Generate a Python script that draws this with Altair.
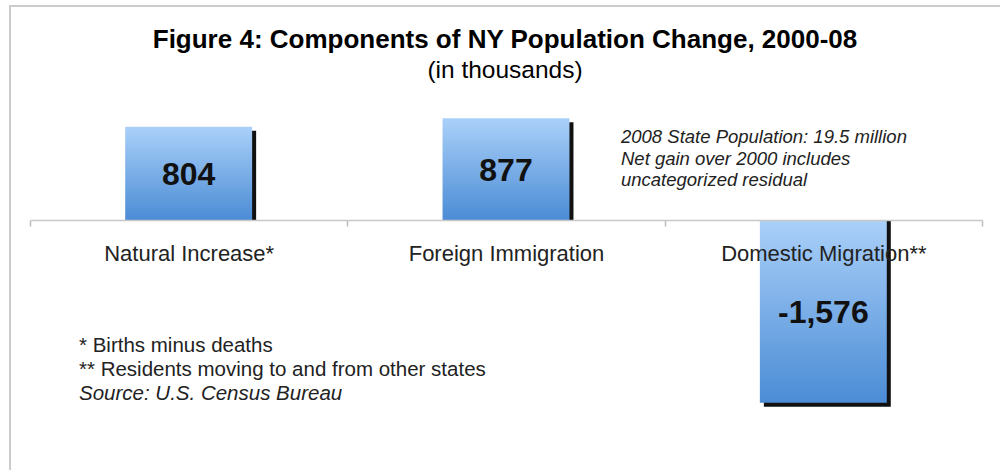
import altair as alt
import pandas as pd

categories = ["Natural Increase*", "Foreign Immigration", "Domestic Migration**"]
values = [804, 877, -1576]
value_labels = ["804", "877", "-1,576"]

title_text = "Figure 4: Components of NY Population Change, 2000-08"
subtitle_text = "(in thousands)"
note_lines = ["2008 State Population: 19.5 million", "Net gain over 2000 includes", "uncategorized residual"]
foot_lines = ["* Births minus deaths", "** Residents moving to and from other states"]
source_line = "Source: U.S. Census Bureau"

df = pd.DataFrame({"category": categories, "value": values, "label": value_labels})
df["mid"] = df["value"] / 2
one = pd.DataFrame({"k": [0]})

FONT = "Liberation Sans"

xscale = alt.Scale(range=[30, 982], paddingInner=0, paddingOuter=0)
yscale = alt.Scale(domain=[-2155, 1896], nice=False, zero=False)

x_enc = alt.X("category:N", sort=categories, scale=xscale, title=None,
              axis=alt.Axis(orient="bottom", offset=-250, zindex=1, domainColor="#c8c8c8",
                            domainWidth=1.5, ticks=True, tickColor="#bdbdbd", tickWidth=1.5,
                            tickSize=6, tickBand="extent", tickOpacity=1,
                            labelFontSize=22, labelColor="#222222",
                            labelFont=FONT, labelPadding=17, labelAngle=0, labelLimit=0,
                            grid=False))
y_enc = alt.Y("value:Q", scale=yscale, axis=None)

base = alt.Chart(df)
BAR_W = alt.RelativeBandSize(0.4)

shadow = base.mark_bar(color="#111111", xOffset=4, yOffset=4, width=BAR_W).encode(
    x=x_enc, y=y_enc, y2=alt.datum(0))

grad = alt.Gradient(gradient="linear",
                    stops=[alt.GradientStop(color="#aad0f9", offset=0),
                           alt.GradientStop(color="#4b8cd5", offset=1)],
                    x1=0, x2=0, y1=0, y2=1)
bars = base.mark_bar(color=grad, width=BAR_W).encode(x=x_enc, y=y_enc, y2=alt.datum(0))

bar_text = base.mark_text(fontSize=32, fontWeight="bold", font=FONT, color="#111111",
                          baseline="middle", dy=2).encode(
    x=alt.X("category:N", sort=categories, scale=xscale),
    y=alt.Y("mid:Q", scale=yscale),
    text="label:N")

deco = alt.Chart(one)
frame_top = deco.mark_rule(color="#cccccc", strokeWidth=2).encode(
    x=alt.value(9), x2=alt.value(1000), y=alt.value(6))
frame_left = deco.mark_rule(color="#cccccc", strokeWidth=2).encode(
    x=alt.value(10), y=alt.value(5), y2=alt.value(470))

title = deco.mark_text(fontSize=26, fontWeight="bold", font=FONT, color="#000000",
                       align="center", baseline="alphabetic").encode(
    x=alt.value(505), y=alt.value(48), text=alt.value(title_text))
subtitle = deco.mark_text(fontSize=24.5, font=FONT, color="#000000",
                          align="center", baseline="alphabetic").encode(
    x=alt.value(505), y=alt.value(78), text=alt.value(subtitle_text))

note = deco.mark_text(fontSize=18.5, fontStyle="italic", font=FONT, color="#222222",
                      align="left", baseline="alphabetic", lineHeight=21.5).encode(
    x=alt.value(621), y=alt.value(143), text=alt.value(note_lines))

foot = deco.mark_text(fontSize=20.5, font=FONT, color="#222222",
                      align="left", baseline="alphabetic", lineHeight=24.3).encode(
    x=alt.value(79), y=alt.value(352), text=alt.value(foot_lines))
source = deco.mark_text(fontSize=20.5, fontStyle="italic", font=FONT, color="#222222",
                        align="left", baseline="alphabetic").encode(
    x=alt.value(79), y=alt.value(400), text=alt.value(source_line))

chart = alt.layer(frame_top, frame_left, shadow, bars, bar_text, title, subtitle, note, foot, source).properties(
    width=1000, height=470, autosize=alt.AutoSizeParams(type="none"), padding=0,
    background="white"
).configure_view(stroke=None)

chart.save("out.html", embed_options={"renderer": "svg", "actions": False})
